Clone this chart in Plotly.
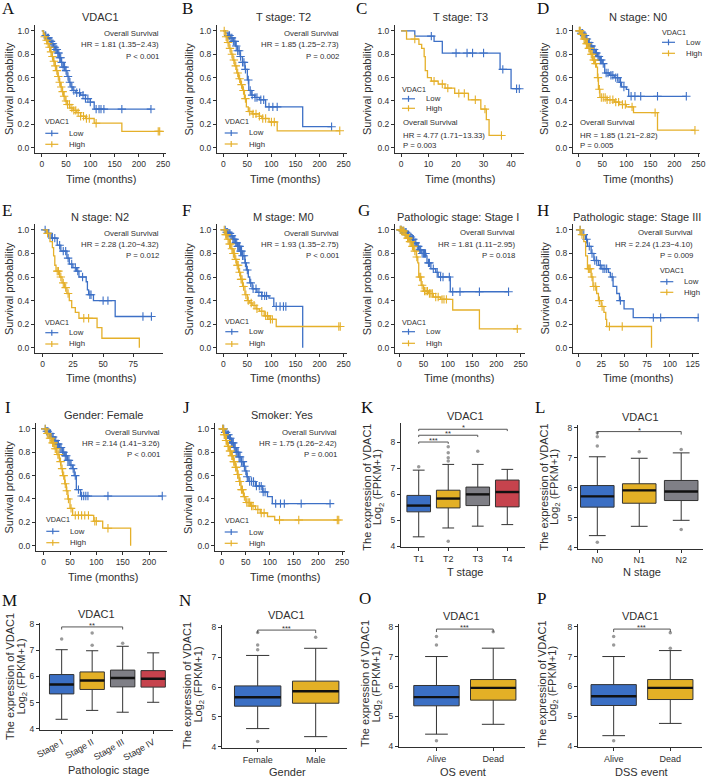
import plotly.graph_objects as go

W, H = 709, 778
SANS = 'Liberation Sans'
SERIF = 'Liberation Serif'
INK = '#2f2f2f'
LOW_COL = '#3d70c6'
HIGH_COL = '#e5b02a'
BOX_COLS = ['#3b6fc4', '#e3b026', '#7f7f86', '#c6434d']

# ---- Kaplan-Meier curves: step times (months), survival after each step, censor times ----
A_low_t = [0, 4, 8, 12, 16, 20, 24, 28, 32, 36, 40, 44, 48, 52, 56, 60, 64, 70, 80, 90, 100, 108]
A_low_s = [1.0, 0.98, 0.96, 0.94, 0.91, 0.89, 0.86, 0.84, 0.81, 0.77, 0.73, 0.69, 0.66, 0.61, 0.56, 0.52, 0.49, 0.47, 0.45, 0.42, 0.39, 0.33]
A_low_c = [8, 12, 14, 17, 19, 21, 23, 25, 27, 29, 31, 33, 35, 37, 39, 41, 44, 47, 50, 54, 58, 62, 66, 72, 78, 85, 90, 95, 100, 112, 118, 122, 128, 165, 225]
A_high_t = [0, 3, 6, 9, 12, 15, 18, 21, 24, 27, 30, 33, 36, 39, 42, 45, 48, 52, 58, 65, 72, 80, 90, 108, 165]
A_high_s = [1.0, 0.97, 0.95, 0.92, 0.89, 0.86, 0.82, 0.78, 0.74, 0.7, 0.66, 0.61, 0.56, 0.52, 0.48, 0.44, 0.4, 0.37, 0.34, 0.32, 0.3, 0.27, 0.25, 0.21, 0.14]
A_high_c = [6, 10, 13, 16, 19, 22, 25, 28, 31, 34, 37, 40, 43, 46, 50, 53, 57, 62, 66, 70, 75, 80, 86, 92, 98, 112, 240, 243]

B_low_t = [0, 5, 10, 15, 20, 25, 30, 35, 40, 45, 50, 53, 58, 65, 75, 88, 165]
B_low_s = [1.0, 0.98, 0.96, 0.94, 0.91, 0.87, 0.83, 0.78, 0.73, 0.67, 0.58, 0.49, 0.45, 0.43, 0.41, 0.35, 0.18]
B_low_c = [10, 13, 16, 18, 21, 24, 27, 30, 33, 36, 40, 43, 46, 52, 56, 60, 66, 70, 78, 84, 95, 103, 112, 225]
B_high_t = [0, 4, 8, 12, 16, 20, 24, 28, 32, 36, 40, 44, 48, 52, 60, 75, 80, 95, 112]
B_high_s = [1.0, 0.95, 0.9, 0.85, 0.8, 0.75, 0.7, 0.64, 0.59, 0.54, 0.49, 0.42, 0.35, 0.31, 0.29, 0.27, 0.25, 0.22, 0.145]
B_high_c = [2, 6, 10, 14, 18, 22, 26, 30, 34, 38, 42, 46, 55, 62, 68, 75, 82, 88, 100, 106, 242]

C_low_t = [0, 5, 12, 15, 36, 40]
C_low_s = [1.0, 0.955, 0.91, 0.81, 0.67, 0.505]
C_low_c = [11, 20, 24, 26, 30, 37, 42, 43]
C_high_t = [0, 2, 6.5, 7.5, 8.4, 8.8, 9.6, 11, 13.5, 16, 19.5, 24.5, 29, 31, 32]
C_high_s = [1.0, 0.93, 0.885, 0.85, 0.78, 0.66, 0.6, 0.57, 0.545, 0.51, 0.465, 0.41, 0.33, 0.24, 0.105]
C_high_c = [5, 12, 15, 17, 21, 23, 27, 30.5, 36.5]

D_low_t = [0, 5, 10, 15, 20, 25, 30, 35, 40, 45, 50, 55, 65, 75, 85, 90, 100, 105]
D_low_s = [1.0, 0.98, 0.96, 0.93, 0.9, 0.87, 0.84, 0.81, 0.78, 0.75, 0.72, 0.64, 0.62, 0.6, 0.56, 0.52, 0.5, 0.44]
D_low_c = [3, 6, 9, 12, 14, 16, 18, 21, 23, 26, 28, 31, 33, 36, 38, 41, 43, 46, 48, 52, 58, 62, 68, 72, 78, 82, 88, 95, 110, 118, 130, 165, 225]
D_high_t = [0, 5, 10, 15, 20, 25, 30, 35, 38, 40, 42, 45, 60, 75, 85, 100, 115, 165]
D_high_s = [1.0, 0.97, 0.93, 0.89, 0.85, 0.8, 0.75, 0.72, 0.69, 0.6, 0.5, 0.43, 0.41, 0.39, 0.37, 0.35, 0.3, 0.15]
D_high_c = [2, 4, 7, 9, 12, 14, 17, 19, 22, 24, 27, 29, 32, 34, 36, 41, 44, 48, 52, 56, 60, 66, 72, 78, 84, 92, 98, 112, 160, 243]

E_low_t = [0, 3, 7, 12, 15, 20, 22, 25, 28, 30, 36, 37, 38, 42, 60]
E_low_s = [1.0, 0.97, 0.93, 0.87, 0.82, 0.76, 0.71, 0.68, 0.65, 0.6, 0.56, 0.49, 0.45, 0.4, 0.265]
E_low_c = [2, 5, 8, 10, 14, 17, 19, 21, 24, 27, 29, 33, 39, 40, 50, 54, 83, 90]
E_high_t = [0, 3, 6, 8, 9, 10, 11, 14, 16, 18, 20, 22, 24, 27, 30, 45, 49, 80]
E_high_s = [1.0, 0.97, 0.9, 0.85, 0.78, 0.7, 0.65, 0.6, 0.55, 0.51, 0.46, 0.4, 0.34, 0.3, 0.25, 0.17, 0.08, 0.0]
E_high_c = [4, 12, 13, 15, 17, 19, 21, 34, 38]

F_low_t = [0, 5, 10, 15, 20, 25, 30, 35, 40, 45, 48, 52, 55, 60, 70, 80, 95, 105, 165]
F_low_s = [1.0, 0.98, 0.97, 0.95, 0.92, 0.89, 0.86, 0.82, 0.78, 0.72, 0.66, 0.6, 0.55, 0.5, 0.47, 0.44, 0.42, 0.35, 0.0]
F_low_c = [4, 7, 9, 12, 14, 16, 18, 20, 22, 24, 26, 28, 30, 32, 34, 36, 38, 40, 43, 46, 50, 57, 62, 68, 74, 80, 86, 90, 110, 118, 125, 130]
F_high_t = [0, 4, 8, 12, 16, 20, 24, 28, 32, 36, 40, 45, 50, 55, 60, 68, 75, 85, 95, 110]
F_high_s = [1.0, 0.96, 0.92, 0.88, 0.84, 0.8, 0.75, 0.7, 0.64, 0.58, 0.52, 0.45, 0.4, 0.38, 0.36, 0.33, 0.31, 0.27, 0.24, 0.18]
F_high_c = [2, 5, 7, 10, 13, 15, 18, 21, 23, 26, 29, 31, 34, 37, 39, 42, 47, 52, 58, 64, 70, 80, 88, 92, 98, 102, 240, 243]

G_low_t = [0, 5, 10, 15, 20, 25, 30, 35, 40, 45, 55, 57, 65, 75, 80, 105]
G_low_s = [1.0, 0.99, 0.98, 0.96, 0.94, 0.92, 0.89, 0.86, 0.83, 0.8, 0.78, 0.72, 0.67, 0.64, 0.6, 0.475]
G_low_c = [2, 4, 7, 9, 12, 14, 17, 19, 22, 24, 27, 29, 32, 34, 37, 39, 42, 44, 47, 50, 52, 54, 60, 62, 70, 78, 85, 90, 103, 110, 125, 165, 225]
G_high_t = [0, 5, 10, 15, 20, 25, 30, 35, 38, 40, 45, 50, 60, 70, 85, 110, 165]
G_high_s = [1.0, 0.99, 0.96, 0.93, 0.9, 0.86, 0.82, 0.77, 0.72, 0.6, 0.53, 0.48, 0.46, 0.43, 0.41, 0.32, 0.16]
G_high_c = [2, 4, 7, 9, 12, 14, 17, 19, 22, 24, 27, 29, 32, 36, 42, 44, 47, 52, 55, 58, 62, 65, 68, 75, 80, 88, 92, 97, 243]

H_low_t = [0, 4, 8, 10, 14, 17, 22, 25, 33, 35, 38, 42, 45, 50, 60]
H_low_s = [1.0, 0.96, 0.92, 0.86, 0.8, 0.74, 0.7, 0.67, 0.64, 0.6, 0.52, 0.46, 0.4, 0.33, 0.255]
H_low_c = [2, 6, 9, 12, 15, 18, 20, 24, 27, 29, 31, 37, 46, 82, 90, 131]
H_high_t = [0, 3, 6, 8, 10, 14, 16, 20, 22, 25, 28, 30, 31, 80]
H_high_s = [1.0, 0.96, 0.9, 0.78, 0.67, 0.6, 0.52, 0.46, 0.4, 0.35, 0.3, 0.24, 0.18, 0.0]
H_high_c = [2, 4, 11, 12, 13, 15, 17, 19, 23, 26, 34, 48]

I_low_t = [0, 5, 10, 15, 20, 25, 30, 35, 40, 45, 50, 55, 58, 62, 70]
I_low_s = [1.0, 0.98, 0.96, 0.93, 0.9, 0.87, 0.84, 0.8, 0.77, 0.73, 0.69, 0.66, 0.6, 0.48, 0.425]
I_low_c = [3, 6, 8, 11, 13, 16, 18, 21, 23, 26, 28, 31, 33, 36, 38, 41, 43, 46, 48, 52, 56, 60, 66, 72, 76, 80, 84, 122, 225]
I_high_t = [0, 5, 10, 15, 20, 25, 30, 33, 36, 40, 43, 46, 50, 55, 95, 112, 165]
I_high_s = [1.0, 0.96, 0.92, 0.88, 0.83, 0.78, 0.72, 0.66, 0.6, 0.53, 0.47, 0.4, 0.32, 0.26, 0.21, 0.15, 0.0]
I_high_c = [3, 7, 12, 14, 17, 19, 22, 24, 27, 29, 32, 35, 38, 41, 44, 47, 52, 60, 66, 72, 78, 85, 97, 100, 122]

J_low_t = [0, 5, 10, 15, 20, 25, 30, 35, 40, 45, 48, 52, 55, 70, 85, 95, 105]
J_low_s = [1.0, 0.97, 0.95, 0.92, 0.88, 0.84, 0.8, 0.76, 0.72, 0.68, 0.64, 0.59, 0.55, 0.51, 0.46, 0.42, 0.36]
J_low_c = [2, 4, 7, 9, 12, 14, 16, 18, 20, 22, 24, 26, 28, 30, 32, 34, 36, 38, 41, 44, 47, 50, 53, 58, 62, 66, 72, 78, 82, 86, 90, 112, 122, 130, 165, 225]
J_high_t = [0, 4, 8, 12, 16, 20, 24, 28, 32, 36, 40, 45, 50, 60, 70, 80, 95, 110]
J_high_s = [1.0, 0.95, 0.9, 0.85, 0.81, 0.77, 0.72, 0.67, 0.61, 0.55, 0.48, 0.42, 0.37, 0.34, 0.31, 0.28, 0.25, 0.22]
J_high_c = [2, 3, 5, 6, 9, 10, 13, 14, 17, 18, 21, 22, 25, 26, 29, 30, 33, 34, 37, 38, 41, 43, 47, 52, 55, 58, 62, 65, 75, 82, 88, 120, 160, 240, 243]

# ---- hazard ratio labels ----
A_hr = ['Overall Survival', 'HR = 1.81 (1.35\u22122.43)', 'P < 0.001']
B_hr = ['Overall Survival', 'HR = 1.85 (1.25\u22122.73)', 'P = 0.002']
C_hr = ['Overall Survival', 'HR = 4.77 (1.71\u221213.33)', 'P = 0.003']
D_hr = ['Overall Survival', 'HR = 1.85 (1.21\u22122.82)', 'P = 0.005']
E_hr = ['Overall Survival', 'HR = 2.28 (1.20\u22124.32)', 'P = 0.012']
F_hr = ['Overall Survival', 'HR = 1.93 (1.35\u22122.75)', 'P < 0.001']
G_hr = ['Overall Survival', 'HR = 1.81 (1.11\u22122.95)', 'P = 0.018']
H_hr = ['Overall Survival', 'HR = 2.24 (1.23\u22124.10)', 'P = 0.009']
I_hr = ['Overall Survival', 'HR = 2.14 (1.41\u22123.26)', 'P < 0.001']
J_hr = ['Overall Survival', 'HR = 1.75 (1.26\u22122.42)', 'P = 0.001']

# ---- expression box plots, Log2(FPKM+1) ----
K_groups = ['T1', 'T2', 'T3', 'T4']
K_q1 = [5.32, 5.47, 5.56, 5.51]
K_med = [5.56, 5.83, 5.99, 6.08]
K_q3 = [5.95, 6.15, 6.27, 6.54]
K_lo = [4.36, 4.70, 4.77, 4.83]
K_hi = [6.92, 7.14, 7.14, 6.95]
K_out_g = [0, 1, 1, 1, 1, 1, 2]
K_out_v = [7.05, 4.19, 7.27, 7.40, 7.59, 7.82, 7.65]
K_sig = [(0, 1, 8.00, '***'), (0, 2, 8.26, '**'), (0, 3, 8.49, '*')]

L_groups = ['N0', 'N1', 'N2']
L_q1 = [5.35, 5.48, 5.57]
L_med = [5.71, 5.91, 5.87]
L_q3 = [6.07, 6.13, 6.24]
L_lo = [4.40, 4.71, 4.91]
L_hi = [7.03, 6.98, 7.16]
L_out_g = [0, 0, 0, 0, 1, 2, 2]
L_out_v = [4.18, 7.39, 7.70, 7.83, 7.20, 7.27, 4.60]
L_sig = [(0, 2, 7.87, '*')]

M_groups = ['Stage I', 'Stage II', 'Stage III', 'Stage IV']
M_q1 = [5.33, 5.50, 5.60, 5.59]
M_med = [5.69, 5.84, 5.94, 5.91]
M_q3 = [6.07, 6.17, 6.24, 6.22]
M_lo = [4.36, 4.70, 4.63, 5.01]
M_hi = [7.02, 6.98, 7.15, 6.90]
M_out_g = [0, 1, 1, 2]
M_out_v = [7.43, 7.19, 7.66, 7.27]
M_sig = [(0, 2, 7.89, '**')]

N_groups = ['Female', 'Male']
N_q1 = [5.36, 5.46]
N_med = [5.66, 5.86]
N_q3 = [6.04, 6.20]
N_lo = [4.61, 4.34]
N_hi = [7.06, 7.30]
N_out_g = [0, 0, 0, 0, 1]
N_out_v = [4.18, 7.25, 7.41, 7.83, 7.67]
N_sig = [(0, 1, 7.91, '***')]

O_groups = ['Alive', 'Dead']
O_q1 = [5.35, 5.54]
O_med = [5.64, 5.95]
O_q3 = [6.03, 6.23]
O_lo = [4.40, 4.73]
O_hi = [7.00, 7.28]
O_out_g = [0, 0, 0, 1]
O_out_v = [4.18, 7.39, 7.67, 7.83]
O_sig = [(0, 1, 7.92, '***')]

P_groups = ['Alive', 'Dead']
P_q1 = [5.36, 5.56]
P_med = [5.67, 5.95]
P_q3 = [6.06, 6.23]
P_lo = [4.35, 4.76]
P_hi = [7.00, 7.20]
P_out_g = [0, 0, 0, 1, 1]
P_out_v = [4.18, 7.39, 7.67, 7.28, 7.80]
P_sig = [(0, 1, 7.92, '***')]

km_panels = [
    ('A', 'VDAC1', (A_low_t, A_low_s, A_low_c), (A_high_t, A_high_s, A_high_c), A_hr),
    ('B', 'T stage: T2', (B_low_t, B_low_s, B_low_c), (B_high_t, B_high_s, B_high_c), B_hr),
    ('C', 'T stage: T3', (C_low_t, C_low_s, C_low_c), (C_high_t, C_high_s, C_high_c), C_hr),
    ('D', 'N stage: N0', (D_low_t, D_low_s, D_low_c), (D_high_t, D_high_s, D_high_c), D_hr),
    ('E', 'N stage: N2', (E_low_t, E_low_s, E_low_c), (E_high_t, E_high_s, E_high_c), E_hr),
    ('F', 'M stage: M0', (F_low_t, F_low_s, F_low_c), (F_high_t, F_high_s, F_high_c), F_hr),
    ('G', 'Pathologic stage: Stage I', (G_low_t, G_low_s, G_low_c), (G_high_t, G_high_s, G_high_c), G_hr),
    ('H', 'Pathologic stage: Stage III', (H_low_t, H_low_s, H_low_c), (H_high_t, H_high_s, H_high_c), H_hr),
    ('I', 'Gender: Female', (I_low_t, I_low_s, I_low_c), (I_high_t, I_high_s, I_high_c), I_hr),
    ('J', 'Smoker: Yes', (J_low_t, J_low_s, J_low_c), (J_high_t, J_high_s, J_high_c), J_hr),
]

box_panels = [
    ('K', K_groups, K_q1, K_med, K_q3, K_lo, K_hi, K_out_g, K_out_v, K_sig, 'T stage'),
    ('L', L_groups, L_q1, L_med, L_q3, L_lo, L_hi, L_out_g, L_out_v, L_sig, 'N stage'),
    ('M', M_groups, M_q1, M_med, M_q3, M_lo, M_hi, M_out_g, M_out_v, M_sig, 'Pathologic stage'),
    ('N', N_groups, N_q1, N_med, N_q3, N_lo, N_hi, N_out_g, N_out_v, N_sig, 'Gender'),
    ('O', O_groups, O_q1, O_med, O_q3, O_lo, O_hi, O_out_g, O_out_v, O_sig, 'OS event'),
    ('P', P_groups, P_q1, P_med, P_q3, P_lo, P_hi, P_out_g, P_out_v, P_sig, 'DSS event'),
]

# ---- placement (pixels in the 709x778 page) ----
ROW_Y = {1: dict(box=(25, 153), letter=9, title=16.7, xlab=179, ylab=89),
         2: dict(box=(224, 353), letter=210, title=216.7, xlab=378.3, ylab=288.5),
         3: dict(box=(423, 551), letter=407, title=415, xlab=576.7, ylab=487)}

km_pos = {
    'A': dict(row=1, x=(35, 166), xr=(-14, 256), ticks=[0, 50, 100, 150, 200, 250], letter=8, title=100, ylab=9, xlab=101.7,
              hr=('right', 161, [33.7, 44.7, 56.2]), leg=(43.3, [121.7, 133.3, 144.3])),
    'B': dict(row=1, x=(217, 347), xr=(-13, 257), ticks=[0, 50, 100, 150, 200, 250], letter=188, title=283.3, ylab=188.5, xlab=285,
              hr=('right', 340.7, [33.7, 44.7, 56.2]), leg=(222.7, [121.7, 133, 144])),
    'C': dict(row=1, x=(395, 524), xr=(-2.2, 44.7), ticks=[0, 10, 20, 30, 40], letter=361.7, title=460, ylab=367, xlab=460,
              hr=('left', 400.7, [122.7, 135, 145.7]), leg=(400, [89.3, 98.8, 108.3])),
    'D': dict(row=1, x=(573, 700), xr=(-11, 253.5), ticks=[0, 50, 100, 150, 200, 250], letter=542.5, title=638, ylab=544, xlab=638.3,
              hr=('left', 578.3, [122.7, 135, 145.7]), leg=(660, [32.3, 42.3, 53.3])),
    'E': dict(row=2, x=(35, 163), xr=(-6.4, 99.6), ticks=[0, 25, 50, 75], letter=7.5, title=100, ylab=8.5, xlab=101.7,
              hr=('right', 161, [233.3, 245, 256]), leg=(43.3, [322.3, 332.7, 344])),
    'F': dict(row=2, x=(217, 347), xr=(-13, 257), ticks=[0, 50, 100, 150, 200, 250], letter=186.7, title=283, ylab=188, xlab=285,
              hr=('right', 340.7, [233.3, 245, 256]), leg=(223.3, [321.7, 331.7, 344])),
    'G': dict(row=2, x=(395, 525), xr=(-8.9, 258.9), ticks=[0, 50, 100, 150, 200, 250], letter=363.7, title=458, ylab=366.7, xlab=459.5,
              hr=('right', 516.7, [232.7, 244.3, 255.7]), leg=(400, [322.3, 331.7, 343.3])),
    'H': dict(row=2, x=(573, 699), xr=(-5.8, 131.9), ticks=[0, 25, 50, 75, 100, 125], letter=543.3, title=637, ylab=544, xlab=638,
              hr=('right', 695, [232.7, 244.3, 255.7]), leg=(658.3, [271, 281.7, 292.3])),
    'I': dict(row=3, x=(36, 167), xr=(-14.5, 234), ticks=[0, 50, 100, 150, 200], letter=8.3, title=103, ylab=8.5, xlab=103.3,
              hr=('right', 161.7, [432.3, 443.3, 454.3]), leg=(44.3, [519.3, 531.3, 542.7])),
    'J': dict(row=3, x=(215, 345), xr=(-14, 256), ticks=[0, 50, 100, 150, 200, 250], letter=186.7, title=281.7, ylab=188, xlab=285.8,
              hr=('right', 339.3, [432.3, 443.3, 454.3]), leg=(222.7, [520, 532, 543.3])),
}

box_pos = {
    'K': dict(box=(401, 525, 423, 547), xr=(-0.6, 3.6), yr=(3.97, 8.73), letter=(367.5, 407.5), title=(465, 415.5),
              xlab=(465.5, 571.7), ylab=(366.7, 378.3, 487), angle=0),
    'L': dict(box=(578, 703, 425, 548.5), xr=(-0.46, 2.52), yr=(3.97, 8.09), letter=(540, 407.5), title=(640.5, 416.7),
              xlab=(641.7, 571.7), ylab=(543.5, 555, 487), angle=0),
    'M': dict(box=(40, 173, 623, 729.5), xr=(-0.71, 3.65), yr=(3.97, 8.04), letter=(9.2, 600.3), title=(96, 613.5),
              xlab=(108, 770), ylab=(10, 21.5, 677), angle=-30),
    'N': dict(box=(222, 347, 625, 747.7), xr=(-0.615, 1.54), yr=(3.97, 8.08), letter=(185, 600.3), title=(286.7, 615),
              xlab=(287.5, 772.3), ylab=(187, 198.5, 685), angle=0),
    'O': dict(box=(399, 525, 624.3, 747), xr=(-0.66, 1.56), yr=(3.97, 8.08), letter=(365, 598.3), title=(461.3, 615.5),
              xlab=(463.3, 771.7), ylab=(365, 376.5, 684), angle=0),
    'P': dict(box=(578, 702, 624.3, 747), xr=(-0.63, 1.56), yr=(3.97, 8.08), letter=(541, 598.3), title=(640.3, 615.5),
              xlab=(641.7, 771.7), ylab=(541.5, 553, 684), angle=0),
}

fig = go.Figure()
annotations = []
shapes = []


def px2x(x):
    return x / W


def px2y(y):
    return 1 - y / H


def text(x, y, s, size, anchor='center', angle=0, family=SANS, color=INK):
    annotations.append(dict(x=px2x(x), y=px2y(y), xref='paper', yref='paper', text=s, showarrow=False,
                            xanchor=anchor, yanchor='middle', textangle=angle,
                            font=dict(family=family, size=size, color=color)))


def set_axes(i, l, r, t, b, xr, yr, xt, xtt, yt, ytt, xangle=0, xfont=8.5):
    sfx = '' if i == 1 else str(i)
    base = dict(showline=True, linecolor=INK, linewidth=1, ticks='outside', ticklen=3, tickwidth=1,
                tickcolor=INK, showgrid=False, zeroline=False, fixedrange=True, automargin=False)
    fig.update_layout(**{
        'xaxis' + sfx: dict(base, domain=[l / W, r / W], range=list(xr), anchor='y' + sfx, tickvals=xt,
                            ticktext=xtt, tickangle=xangle, tickfont=dict(size=xfont, color=INK)),
        'yaxis' + sfx: dict(base, domain=[1 - b / H, 1 - t / H], range=list(yr), anchor='x' + sfx, tickvals=yt,
                            ticktext=ytt, tickfont=dict(size=8.5, color=INK)),
    })
    return 'x' + sfx, 'y' + sfx


def step_value(ts, ss, c):
    v = ss[0]
    for t, s in zip(ts, ss):
        if t <= c:
            v = s
    return v


def add_curve(xa, ya, ts, ss, cens, color):
    end = max(ts[-1], max(cens))
    fig.add_trace(go.Scatter(x=ts + [end], y=ss + [ss[-1]], mode='lines', xaxis=xa, yaxis=ya,
                             line=dict(color=color, width=1.3, shape='hv'), hoverinfo='skip'))
    fig.add_trace(go.Scatter(x=cens, y=[step_value(ts, ss, c) for c in cens], mode='markers', xaxis=xa, yaxis=ya,
                             marker=dict(symbol='cross-thin', size=6, line=dict(color=color, width=1.1)),
                             hoverinfo='skip'))


def legend_key(x0, y, color):
    shapes.append(dict(type='line', xref='paper', yref='paper', x0=px2x(x0), x1=px2x(x0 + 13),
                       y0=px2y(y), y1=px2y(y), line=dict(color=color, width=1.2)))
    shapes.append(dict(type='line', xref='paper', yref='paper', x0=px2x(x0 + 6.5), x1=px2x(x0 + 6.5),
                       y0=px2y(y - 3), y1=px2y(y + 3), line=dict(color=color, width=1.2)))


surv_ticks = [0, 0.2, 0.4, 0.6, 0.8, 1.0]
surv_text = ['%.1f' % v for v in surv_ticks]

axis_no = 0
for key, title, low, high, hr in km_panels:
    axis_no += 1
    p = km_pos[key]
    row = ROW_Y[p['row']]
    top, bottom = row['box']
    xa, ya = set_axes(axis_no, p['x'][0], p['x'][1], top, bottom, p['xr'], (-0.045, 1.05),
                      p['ticks'], [str(v) for v in p['ticks']], surv_ticks, surv_text)
    add_curve(xa, ya, *low, LOW_COL)
    add_curve(xa, ya, *high, HIGH_COL)

    text(p['letter'], row['letter'], key, 17, family=SERIF, color='#111')
    text(p['title'], row['title'], title, 11)
    text(p['ylab'], row['ylab'], 'Survival probability', 11, angle=-90)
    text(p['xlab'], row['xlab'], 'Time (months)', 11)
    side, hx, hys = p['hr']
    for line, hy in zip(hr, hys):
        text(hx, hy, line, 7.8, anchor=side)
    lx, lys = p['leg']
    text(lx, lys[0], 'VDAC1', 7.2, anchor='left')
    for name, color, ly in (('Low', LOW_COL, lys[1]), ('High', HIGH_COL, lys[2])):
        legend_key(lx + 2, ly, color)
        text(lx + 24, ly, name, 7.8, anchor='left')

for key, groups, q1, med, q3, lo, hi, out_g, out_v, sig, xlabel in box_panels:
    axis_no += 1
    p = box_pos[key]
    l, r, t, b = p['box']
    pos = list(range(len(groups)))
    xa, ya = set_axes(axis_no, l, r, t, b, p['xr'], p['yr'], pos, groups, [4, 5, 6, 7, 8],
                      ['4', '5', '6', '7', '8'], xangle=p['angle'], xfont=9)
    for g in pos:
        fig.add_trace(go.Box(x=[g], q1=[q1[g]], median=[med[g]], q3=[q3[g]], lowerfence=[lo[g]],
                             upperfence=[hi[g]], width=0.8, fillcolor=BOX_COLS[g], boxpoints=False,
                             line=dict(color='#333333', width=1), xaxis=xa, yaxis=ya, hoverinfo='skip'))
    mx, my = [], []
    for g in pos:
        mx += [g - 0.4, g + 0.4, None]
        my += [med[g], med[g], None]
    fig.add_trace(go.Scatter(x=mx, y=my, mode='lines', line=dict(color='#111111', width=2.4),
                             xaxis=xa, yaxis=ya, hoverinfo='skip'))
    fig.add_trace(go.Scatter(x=out_g, y=out_v, mode='markers', xaxis=xa, yaxis=ya, hoverinfo='skip',
                             marker=dict(color='#9a9a9a', size=3.5)))
    for g1, g2, level, stars in sig:
        drop = 0.07 if key == 'K' else 0.1
        fig.add_trace(go.Scatter(x=[g1, g1, g2, g2], y=[level - drop, level, level, level - drop], mode='lines',
                                 line=dict(color='#555555', width=1), xaxis=xa, yaxis=ya, hoverinfo='skip'))
        annotations.append(dict(x=(g1 + g2) / 2, y=level, xref=xa, yref=ya, text=stars, showarrow=False,
                                yanchor='bottom', yshift=-5, font=dict(family=SANS, size=7.5, color=INK)))

    text(p['letter'][0], p['letter'][1], key, 17, family=SERIF, color='#111')
    text(p['title'][0], p['title'][1], 'VDAC1', 11)
    text(p['xlab'][0], p['xlab'][1], xlabel, 11)
    text(p['ylab'][0], p['ylab'][2], 'The expression of VDAC1', 11, angle=-90)
    text(p['ylab'][1], p['ylab'][2], 'Log<sub>2</sub> (FPKM+1)', 11, angle=-90)

fig.update_layout(
    width=W, height=H,
    margin=dict(l=0, r=0, t=0, b=0, pad=0, autoexpand=False),
    paper_bgcolor='white', plot_bgcolor='white',
    font=dict(family=SANS, color=INK),
    showlegend=False,
    boxmode='overlay',
    annotations=annotations,
    shapes=shapes,
)

# the page body carries a default 8px margin; drop it so the figure sits at the window's corner
fig.write_html('out.html', config={'displayModeBar': False},
               post_script="document.body.style.margin='0px';")
